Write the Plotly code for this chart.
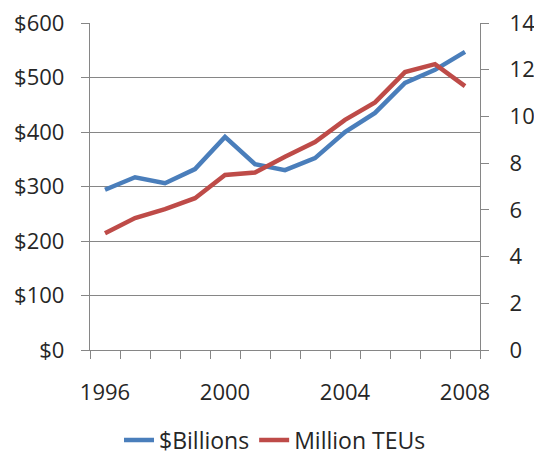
import plotly.graph_objects as go

years = list(range(1996, 2009))
billions = [294, 317, 306, 332, 391, 341, 330, 352, 400, 435, 490, 514, 547]
million_teus = [5.0, 5.65, 6.03, 6.5, 7.49, 7.6, 8.27, 8.9, 9.85, 10.6, 11.9, 12.24, 11.3]

left_ticks = [0, 100, 200, 300, 400, 500, 600]
left_labels = ["$" + str(v) for v in left_ticks]
right_ticks = [0, 2, 4, 6, 8, 10, 12, 14]
year_labels = [1996, 2000, 2004, 2008]

font = dict(family="Open Sans", size=22, color="#262626")
axis_gray = "#868686"

fig = go.Figure()
fig.add_trace(go.Scatter(
    x=years, y=billions, name="$Billions", mode="lines",
    line=dict(color="#4a7ebb", width=4.5), yaxis="y",
))
fig.add_trace(go.Scatter(
    x=years, y=million_teus, name="Million TEUs", mode="lines",
    line=dict(color="#be4b48", width=4.5), yaxis="y2",
))

fig.update_layout(
    width=534, height=456,
    margin=dict(l=90, r=54, t=23, b=106),
    paper_bgcolor="white", plot_bgcolor="white",
    font=font,
    showlegend=True,
    legend=dict(orientation="h", xref="container", x=0.515, xanchor="center",
                yref="container", y=0.035, yanchor="middle",
                font=dict(family="Open Sans", size=23, color="#262626"),
                itemwidth=30, tracegroupgap=0),
    xaxis=dict(
        range=[1995.5, 2008.5], automargin=False,
        tickmode="array", tickvals=year_labels, ticktext=[str(y) for y in year_labels],
        ticks="outside", ticklen=0, tickcolor=axis_gray, ticklabelstandoff=22,
        showgrid=False, zeroline=False,
        showline=True, linecolor=axis_gray, linewidth=1.3,
        minor=dict(tickmode="linear", tick0=1995.5, dtick=1, ticks="outside",
                   ticklen=8, tickcolor=axis_gray, tickwidth=1.3, showgrid=False),
    ),
    yaxis=dict(
        range=[0, 600], automargin=False,
        tickmode="array", tickvals=left_ticks, ticktext=left_labels,
        ticks="outside", ticklen=8, tickcolor=axis_gray, tickwidth=1.3,
        ticklabelstandoff=12,
        showgrid=True, gridcolor=axis_gray, gridwidth=1.3,
        zeroline=False, showline=True, linecolor=axis_gray, linewidth=1.3,
    ),
    yaxis2=dict(
        range=[0, 14], automargin=False,
        tickmode="array", tickvals=right_ticks,
        overlaying="y", side="right",
        ticks="outside", ticklen=8, tickcolor=axis_gray, tickwidth=1.3,
        ticklabelstandoff=16,
        showgrid=False, zeroline=False,
        showline=True, linecolor=axis_gray, linewidth=1.3,
    ),
)

fig.write_html("out.html")
